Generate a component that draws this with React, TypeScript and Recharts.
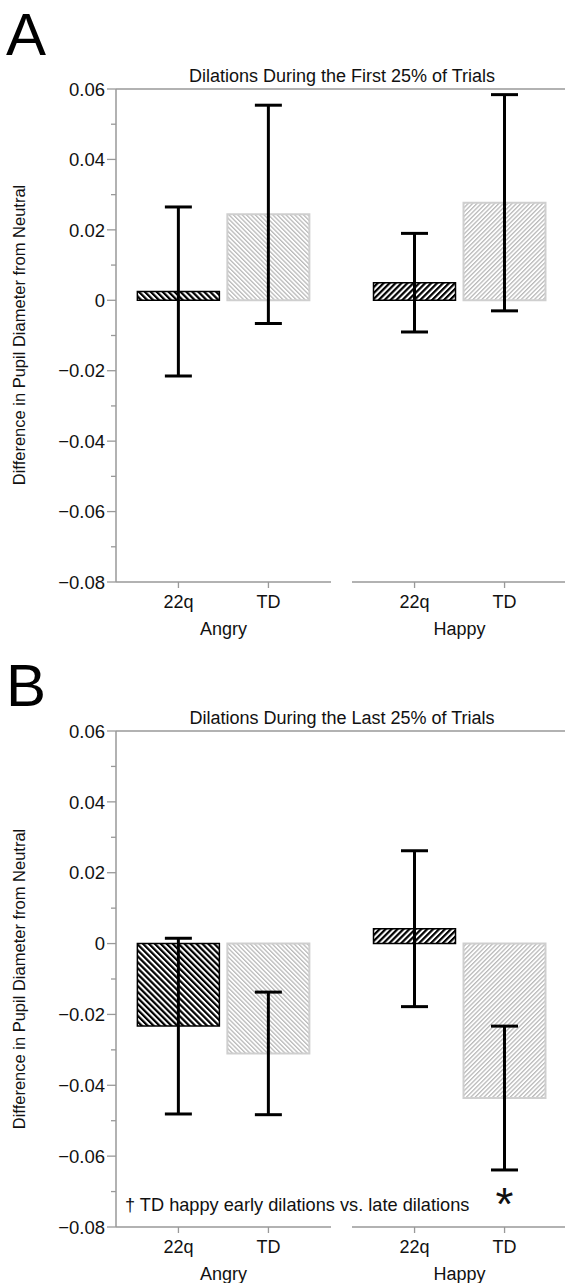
import React from "react";
import { Bar, BarChart, ErrorBar, LabelList, ReferenceLine, XAxis, YAxis, Cell } from "recharts";

// groups on the x axis and the two participant series
const groups = ["Angry", "Happy"];
const groupIndex = [0, 1];
const seriesNames = ["22q", "TD"];

// A: first 25% of trials
const early22q = [0.0025, 0.005];
const early22qErr = [0.024, 0.014];
const earlyTD = [0.0244, 0.0277];
const earlyTDErr = [0.031, 0.0307];
const earlyMarks = ["", ""];

// B: last 25% of trials
const late22q = [-0.0233, 0.0042];
const late22qErr = [0.0248, 0.022];
const lateTD = [-0.031, -0.0436];
const lateTDErr = [0.0173, 0.0203];
const lateMarks = ["", "*"];

const yTicks = [-0.08, -0.07, -0.06, -0.05, -0.04, -0.03, -0.02, -0.01, 0, 0.01, 0.02, 0.03, 0.04, 0.05, 0.06];

const FONT = "'Liberation Sans', Arial, Helvetica, sans-serif";
const AXIS = "#999";
const INK = "#111";
const BAR_SIZE = 82;
const BAR_GAP = 8;
const X_DOMAIN: [number, number] = [-0.455, 1.455];
const CHART_W = 600;
const CHART_H = 650;
const PLOT_LEFT = 116;
const PLOT_W = 451;
const AXIS_GAP = 21;

const build = (a: number[], ae: number[], b: number[], be: number[], marks: string[]) =>
  groupIndex.map((g, i) => ({ group: g, s22q: a[i], e22q: ae[i], td: b[i], eTD: be[i], mark: marks[i] }));

const fmt = (v: number) => {
  const n = Math.round(v * 100);
  if (n === 0) return "0";
  return (n < 0 ? "\u22120." : "0.") + String(Math.abs(n)).padStart(2, "0");
};

const YTick = (props: any) => {
  const { x, y, payload } = props;
  const n = Math.round(payload.value * 100);
  const major = n % 2 === 0;
  return (
    <g>
      <line x1={x - (major ? 9 : 5)} x2={x} y1={y} y2={y} stroke={AXIS} strokeWidth={1.3} />
      {major && (
        <text x={x - 11} y={y} dy="0.36em" textAnchor="end" fontSize={18.5} fill={INK} fontFamily={FONT}>
          {fmt(payload.value)}
        </text>
      )}
    </g>
  );
};

const XTick = (props: any) => {
  const { x, y, payload } = props;
  const half = (BAR_SIZE + BAR_GAP) / 2;
  return (
    <g>
      {seriesNames.map((s, k) => {
        const cx = x + (k === 0 ? -half : half);
        return (
          <g key={s}>
            <line x1={cx} x2={cx} y1={y} y2={y + 6} stroke={AXIS} strokeWidth={1.3} />
            <text x={cx} y={y + 26} textAnchor="middle" fontSize={18} fill={INK} fontFamily={FONT}>
              {s}
            </text>
          </g>
        );
      })}
      <text x={x} y={y + 53} textAnchor="middle" fontSize={18} fill={INK} fontFamily={FONT}>
        {groups[payload.value]}
      </text>
    </g>
  );
};

function Panel({ rows, bottom }: { rows: any[]; bottom: number }) {
  const pxPerUnit = PLOT_W / (X_DOMAIN[1] - X_DOMAIN[0]);
  const gapCenter = (0.5 - X_DOMAIN[0]) * pxPerUnit;
  const dash = `${gapCenter - AXIS_GAP / 2} ${AXIS_GAP} 1000`;

  const Star = (p: any) => {
    const { x, y, width, height, value, index } = p;
    if (!value) return null;
    const top = Math.min(y, y + height);
    const bot = Math.max(y, y + height);
    const v = rows[index].td;
    const k = (bot - top) / Math.abs(v);
    const valuePx = v < 0 ? bot : top;
    const errPx = valuePx + rows[index].eTD * k;
    return (
      <text x={x + width / 2} y={errPx + 50} textAnchor="middle" fontSize={46} fill={INK} fontFamily={FONT}>
        {value}
      </text>
    );
  };

  return (
    <BarChart
      width={CHART_W}
      height={CHART_H}
      data={rows}
      margin={{ top: 89, right: CHART_W - PLOT_LEFT - PLOT_W, bottom, left: PLOT_LEFT - 80 }}
      barSize={BAR_SIZE}
      barGap={BAR_GAP}
    >
      <XAxis
        dataKey="group"
        type="number"
        domain={X_DOMAIN}
        ticks={groupIndex}
        allowDataOverflow
        height={60}
        tickSize={0}
        tickMargin={0}
        tick={<XTick />}
        axisLine={{ stroke: AXIS, strokeWidth: 1.5, strokeDasharray: dash }}
      />
      <YAxis
        width={80}
        domain={[-0.08, 0.06]}
        ticks={yTicks}
        interval={0}
        allowDataOverflow
        tickSize={0}
        tickMargin={0}
        tick={<YTick />}
        axisLine={{ stroke: AXIS, strokeWidth: 1.5 }}
      />
      <ReferenceLine y={0.06} stroke={AXIS} strokeWidth={1.5} />
      <Bar dataKey="s22q" stroke="#000" strokeWidth={1.5} isAnimationActive={false}>
        {rows.map((r, i) => (
          <Cell key={i} fill={`url(#${i === 0 ? "blkBack" : "blkFwd"})`} />
        ))}
        <ErrorBar dataKey="e22q" width={13.5} strokeWidth={3} stroke="#000" direction="y" isAnimationActive={false} />
      </Bar>
      <Bar dataKey="td" stroke="#cfcfcf" strokeWidth={2} isAnimationActive={false}>
        {rows.map((r, i) => (
          <Cell key={i} fill={`url(#${i === 0 ? "gryBack" : "gryFwd"})`} />
        ))}
        <ErrorBar dataKey="eTD" width={13.5} strokeWidth={3} stroke="#000" direction="y" isAnimationActive={false} />
        <LabelList dataKey="mark" content={Star} />
      </Bar>
    </BarChart>
  );
}

function Hatches() {
  const pat = (pid: string, angle: number, period: number, line: number, color: string) => (
    <pattern id={pid} patternUnits="userSpaceOnUse" width={period} height={period} patternTransform={`rotate(${angle})`}>
      <rect x={0} y={0} width={period} height={period} fill="#fff" />
      <rect x={0} y={0} width={line} height={period} fill={color} />
    </pattern>
  );
  return (
    <svg width={0} height={0} style={{ position: "absolute" }}>
      <defs>
        {pat("blkBack", -45, 4.2, 2.2, "#000")}
        {pat("blkFwd", 45, 4.2, 2.2, "#000")}
        {pat("gryBack", -45, 3.1, 1.3, "#bababa")}
        {pat("gryFwd", 45, 3.1, 1.3, "#bababa")}
      </defs>
    </svg>
  );
}

export default function App() {
  const rowsA = build(early22q, early22qErr, earlyTD, earlyTDErr, earlyMarks);
  const rowsB = build(late22q, late22qErr, lateTD, lateTDErr, lateMarks);
  const yLabel = "Difference in Pupil Diameter from Neutral";
  return (
    <div style={{ position: "absolute", left: 0, top: 0, width: 565, height: 1283, overflow: "hidden", background: "#fff", fontFamily: FONT }}>
      <Hatches />
      <div style={{ position: "absolute", left: 0, top: 0 }}>
        <Panel rows={rowsA} bottom={8} />
      </div>
      <div style={{ position: "absolute", left: 0, top: 642 }}>
        <Panel rows={rowsB} bottom={5} />
      </div>
      <svg width={565} height={1283} style={{ position: "absolute", left: 0, top: 0, pointerEvents: "none" }} fontFamily={FONT}>
        <text x={6} y={55} fontSize={60} fill="#000">A</text>
        <text x={6} y={706} fontSize={60} fill="#000">B</text>
        <text x={342} y={82} fontSize={18} textAnchor="middle" fill={INK}>Dilations During the First 25% of Trials</text>
        <text x={342} y={724} fontSize={18} textAnchor="middle" fill={INK}>Dilations During the Last 25% of Trials</text>
        <text x={25} y={335} fontSize={16.5} textAnchor="middle" fill={INK} transform="rotate(-90 25 335)">{yLabel}</text>
        <text x={25} y={979} fontSize={16.5} textAnchor="middle" fill={INK} transform="rotate(-90 25 979)">{yLabel}</text>
        <text x={125} y={1211} fontSize={18.2} fill={INK}>{"\u2020 TD happy early dilations vs. late dilations"}</text>
      </svg>
    </div>
  );
}
